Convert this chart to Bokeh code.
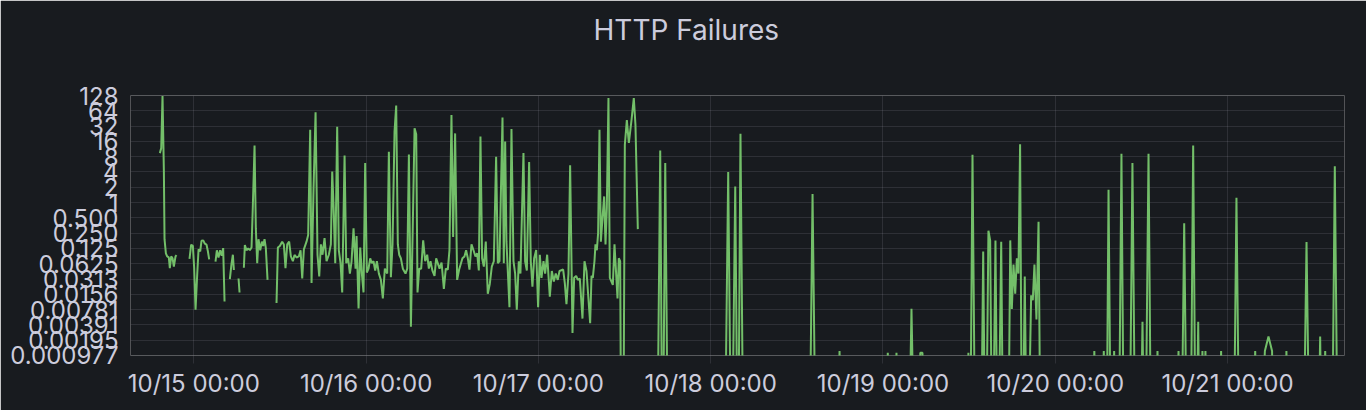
import numpy as np
from datetime import datetime, timedelta
from bokeh.plotting import figure
from bokeh.models import ColumnDataSource, Range1d, FixedTicker, DatetimeTickFormatter, Title
from bokeh.embed import file_html
from bokeh.resources import INLINE

TITLE = "HTTP Failures"
BASE_TIME = datetime(2023, 10, 15, 0, 0)
VIEW_START_H = -8.82
VIEW_END_H = 160.29

x_tick_days = [datetime(2023, 10, d) for d in range(15, 22)]
y_ticks = [128, 64, 32, 16, 8, 4, 2, 1, 0.5, 0.25, 0.125, 0.0625, 0.03125,
           0.015625, 0.0078125, 0.00390625, 0.001953125, 0.0009765625]
y_tick_labels = ["128", "64", "32", "16", "8", "4", "2", "1", "0.500", "0.250",
                 "0.125", "0.0625", "0.0313", "0.0156", "0.00781", "0.00391",
                 "0.00195", "0.000977"]

# (hours since 10/15 00:00, failures); None = no data, 0 = zero failures
seg_oct14 = [(-4.73, 9.4), (-4.54, 11.8), (-4.36, 125), (-4.17, 4.1), (-4.08, 0.19),
             (-3.89, 0.10), (-3.71, 0.087), (-3.48, 0.083), (-3.34, 0.051), (-3.15, 0.087),
             (-2.96, 0.08), (-2.78, 0.055), (-2.55, 0.087), (-2.41, 0.092), (-1.5, None),
             (-0.60, 0.078), (-0.37, 0.148), (-0.13, 0.14)]
seg_oct15_a = [(0.05, 0.051), (0.24, 0.0078), (0.47, 0.038), (0.66, 0.12), (0.89, 0.11),
               (1.07, 0.177), (1.31, 0.18), (1.54, 0.155), (1.77, 0.148), (1.96, 0.11),
               (2.14, 0.076), (2.6, None), (3.02, 0.069), (3.21, 0.115), (3.44, 0.083),
               (3.67, 0.115), (3.88, 0.09), (4.09, 0.127), (4.28, 0.0113), (4.65, None),
               (5.02, 0.031), (5.25, 0.062), (5.44, 0.094), (5.58, 0.047), (5.9, None),
               (6.23, 0.032), (6.37, 0.017), (6.67, None)]
seg_oct15_b = [(6.97, 0.052), (7.11, 0.145), (7.34, 0.115), (7.57, 0.125), (7.81, 0.116),
               (8.04, 0.13), (8.22, 0.84), (8.46, 13.3), (8.64, 0.31), (8.83, 0.064),
               (9.01, 0.19), (9.25, 0.115), (9.48, 0.17), (9.66, 0.14), (9.85, 0.19),
               (10.03, 0.128), (10.27, 0.03), (10.9, None), (11.52, 0.0105), (11.71, 0.13),
               (11.98, 0.14), (12.31, 0.17), (12.54, 0.15), (12.77, 0.051), (13.01, 0.15),
               (13.28, 0.17), (13.52, 0.087), (13.80, 0.07), (14.03, 0.093), (14.31, 0.083),
               (14.63, 0.087), (14.87, 0.115), (15.10, 0.032), (15.33, 0.12), (15.70, 0.17),
               (15.93, 0.23), (16.21, 27), (16.40, 0.026), (16.68, 1.9), (16.96, 60),
               (17.23, 0.094), (17.47, 0.035), (17.70, 0.15), (17.93, 0.094), (18.21, 0.2),
               (18.49, 0.07), (18.81, 0.094), (19.09, 0.15), (19.28, 4.1), (19.46, 0.9),
               (19.70, 0.064), (19.97, 31), (20.20, 0.115), (20.44, 0.064), (20.67, 0.017),
               (21.00, 8.4), (21.23, 0.064), (21.50, 0.08), (21.74, 0.04), (21.97, 0.069),
               (22.25, 0.31), (22.53, 0.05), (22.67, 0.22), (22.95, 0.0082), (23.18, 0.13),
               (23.41, 0.04), (23.64, 0.017), (23.87, 6)]
seg_oct16 = [(24.10, 0.042), (24.34, 0.05), (24.57, 0.08), (24.80, 0.064), (25.03, 0.07),
             (25.27, 0.046), (25.50, 0.07), (25.78, 0.04), (26.06, 0.03), (26.33, 0.013),
             (26.61, 0.05), (26.94, 0.04), (27.17, 10), (27.45, 0.034), (27.68, 0.15),
             (27.96, 25), (28.19, 81), (28.42, 0.15), (28.61, 0.094), (28.84, 0.08),
             (29.12, 0.05), (29.49, 0.04), (29.73, 0.05), (29.96, 8.8), (30.24, 0.0036),
             (30.47, 0.2), (30.75, 29), (30.98, 22), (31.16, 0.017), (31.40, 0.05),
             (31.67, 0.05), (31.95, 0.18), (32.23, 0.07), (32.51, 0.094), (32.74, 0.05),
             (32.97, 0.07), (33.25, 0.045), (33.53, 0.036), (33.76, 0.08), (34.23, 0.05),
             (34.51, 0.066), (34.83, 0.02), (35.10, 0.05), (35.38, 0.048), (35.61, 0.115),
             (35.89, 53), (36.12, 0.21), (36.40, 23), (36.68, 0.03), (36.96, 0.048),
             (37.42, 0.08), (37.70, 0.087), (37.93, 0.115), (38.17, 0.08), (38.40, 0.048),
             (38.68, 0.15), (38.96, 0.115), (39.23, 0.087), (39.47, 0.1), (39.70, 0.046),
             (39.93, 20), (40.16, 0.08), (40.40, 0.055), (40.67, 0.17), (40.95, 0.016),
             (41.23, 0.025), (41.51, 0.055), (41.79, 0.07), (42.11, 8), (42.35, 0.064),
             (42.58, 0.07), (42.76, 1.2), (43.00, 47), (43.18, 0.064), (43.37, 16),
             (43.55, 0.17), (43.97, 0.0087), (44.25, 28), (44.53, 0.07), (44.76, 0.04),
             (44.99, 0.0078), (45.27, 0.07), (45.50, 0.04), (45.92, 9.4), (46.15, 0.07),
             (46.39, 0.046), (46.71, 6.3), (46.94, 0.07), (47.17, 0.022), (47.41, 0.08),
             (47.69, 0.116), (47.96, 0.0087)]
seg_oct17 = [(48.20, 0.094), (48.43, 0.033), (48.71, 0.07), (48.94, 0.04), (49.22, 0.094),
             (49.59, 0.014), (49.87, 0.045), (50.15, 0.028), (50.42, 0.04), (50.70, 0.03),
             (50.94, 0.045), (51.45, 0.048), (51.68, 0.026), (51.91, 0.01), (52.19, 0.04),
             (52.42, 5.4), (52.75, 0.0027), (52.98, 0.033), (53.26, 0.036), (53.49, 0.03),
             (53.77, 0.032), (54.14, 0.0052), (54.42, 0.07), (54.70, 0.045), (55.21, 0.0042),
             (55.40, 0.036), (55.58, 0.033), (55.81, 0.07), (55.95, 0.15), (56.14, 0.115),
             (56.32, 0.25), (56.51, 27), (56.70, 0.17), (56.93, 0.5), (57.16, 1.32),
             (57.35, 0.15), (57.53, 0.8), (57.76, 114), (57.95, 0.033), (58.37, 0.024),
             (58.60, 0.15), (59.02, 0.013), (59.20, 0.08), (59.39, 0.07), (59.57, 0),
             (59.80, 0), (60.04, 13.7), (60.32, 42), (60.60, 15), (60.97, 42), (61.29, 114),
             (61.52, 34), (61.85, 0.3), (62.5, None), (64.5, 0), (64.97, 10.6), (65.3, 0),
             (65.67, 6.0), (66.1, 0)]
seg_oct18_19 = [(73.9, 0), (74.44, 4.0), (74.9, 0), (75.42, 2.07), (75.8, 0), (76.15, 22.6),
                (76.6, 0), (85.7, 0), (86.19, 1.48), (86.7, 0), (89.5, 0), (89.95, 0.0012),
                (90.4, 0), (96.2, 0), (96.67, 0.0011), (97.2, 0), (97.4, 0), (97.88, 0.0011),
                (98.4, 0), (99.5, 0), (99.97, 0.0081), (100.5, 0), (100.8, 0), (101.2, 0.0011),
                (101.5, 0.0011), (101.9, 0), (107.5, 0), (107.9, 0.0011), (108.1, 0),
                (108.47, 8.7), (108.9, 0), (109.6, 0), (109.96, 0.109), (110.3, 0),
                (110.69, 0.28), (110.93, 0.18), (111.25, 0), (111.67, 0.18), (112.0, 0),
                (112.47, 0.17), (112.8, 0), (113.4, 0), (113.73, 0.18), (113.95, 0.008),
                (114.18, 0.06), (114.42, 0.016), (114.65, 0.08), (114.87, 0.04), (115.10, 14),
                (115.4, 0), (115.75, 0.035), (116.1, 0), (116.64, 0.015), (116.87, 0.012),
                (117.10, 0.06), (117.38, 0.005), (117.67, 0.42), (118.0, 0)]
seg_oct20_21 = [(125.0, 0), (125.44, 0.0012), (125.9, 0), (126.3, 0), (126.76, 0.0012),
                (127.1, 0), (127.42, 1.78), (127.8, 0), (128.2, 0.0012), (128.6, 0),
                (128.8, 0), (129.22, 9.1), (129.6, 0), (130.3, 0), (130.75, 6.0), (131.2, 0),
                (131.8, 0), (132.15, 0.0045), (132.5, 0), (132.99, 9.1), (133.4, 0),
                (133.8, 0), (134.24, 0.0012), (134.7, 0), (136.7, 0), (137.17, 0.0012),
                (137.5, 0), (137.96, 0.39), (138.4, 0), (138.8, 0), (139.21, 13.3),
                (139.6, 0), (139.91, 0.0045), (140.2, 0), (140.5, 0.0012), (140.7, 0),
                (140.92, 0.0012), (141.3, 0), (142.7, 0), (143.1, 0.0012), (143.5, 0),
                (144.8, 0), (145.24, 1.24), (145.7, 0), (147.4, 0), (147.85, 0.0012),
                (148.3, 0), (149.2, 0.0012), (149.7, 0.0023), (150.2, 0.0012), (150.5, 0),
                (151.8, 0), (152.2, 0.0012), (152.6, 0), (154.5, 0), (155.0, 0.167),
                (155.5, 0), (156.5, 0), (156.9, 0.0023), (157.2, 0), (157.6, 0.0012),
                (158.0, 0), (158.5, 0), (158.94, 5.2), (159.4, 0)]

points = seg_oct14 + seg_oct15_a + seg_oct15_b + seg_oct16 + seg_oct17 + seg_oct18_19 + seg_oct20_21
hours = [h for h, _ in points]
failures = [v for _, v in points]

BG = "#181b1f"
TEXT = "#ccccdc"
GRID = "rgba(204,204,220,0.12)"
LINE = "#73BF69"
FONT = "Inter"

ZERO_FLOOR = 1e-6  # zero on a log axis: drawn below the visible range
times = [BASE_TIME + timedelta(hours=h) for h in hours]
yvals = np.array([np.nan if v is None else (ZERO_FLOOR if v == 0 else v) for v in failures], dtype=float)
src = ColumnDataSource(dict(t=times, y=yvals))

p = figure(width=1366, height=410, x_axis_type="datetime", y_axis_type="log",
           x_range=Range1d(BASE_TIME + timedelta(hours=VIEW_START_H),
                           BASE_TIME + timedelta(hours=VIEW_END_H)),
           y_range=Range1d(y_ticks[-1] * 0.999, y_ticks[0] * 1.001),
           output_backend="svg", toolbar_location=None, title=None,
           min_border_left=130, min_border_right=22, min_border_top=95, min_border_bottom=55,
           background_fill_color=BG, border_fill_color=BG)
p.outline_line_color = None

p.line("t", "y", source=src, line_color=LINE, line_width=2)

epoch = datetime(1970, 1, 1)
p.xaxis.ticker = FixedTicker(ticks=[(d - epoch).total_seconds() * 1000 for d in x_tick_days])
fmt = "%m/%d %H:%M"
p.xaxis.formatter = DatetimeTickFormatter(milliseconds=fmt, seconds=fmt, minsec=fmt, minutes=fmt,
                                          hourmin=fmt, hours=fmt, days=fmt, months=fmt, years=fmt)
p.yaxis.ticker = FixedTicker(ticks=y_ticks)
p.yaxis.major_label_overrides = dict(zip(y_ticks, y_tick_labels))

for ax in (p.xaxis, p.yaxis):
    ax.axis_line_color = None
    ax.minor_tick_line_color = None
    ax.major_label_text_font = FONT
    ax.major_label_text_font_size = "24px"
    ax.major_label_text_color = TEXT
p.xaxis.major_tick_line_color = GRID
p.xaxis.major_tick_in = 0
p.xaxis.major_tick_out = 8
p.xaxis.major_label_standoff = 5
p.yaxis.major_tick_line_color = None
p.yaxis.major_tick_in = 0
p.yaxis.major_tick_out = 0
p.yaxis.major_label_standoff = 12

p.xgrid.grid_line_color = GRID
p.ygrid.grid_line_color = GRID

# blank spacer between frame and title (closest to frame), then the visible title above it
spacer = Title(text=" ", text_font=FONT, text_font_size="1px", text_color=BG, standoff=46)
p.add_layout(spacer, "above")
title = Title(text=TITLE, align="left", offset=463, standoff=0, text_font=FONT,
              text_font_size="28px", text_font_style="normal", text_color=TEXT)
p.add_layout(title, "above")

open("out.html", "w").write(file_html(p, INLINE))
